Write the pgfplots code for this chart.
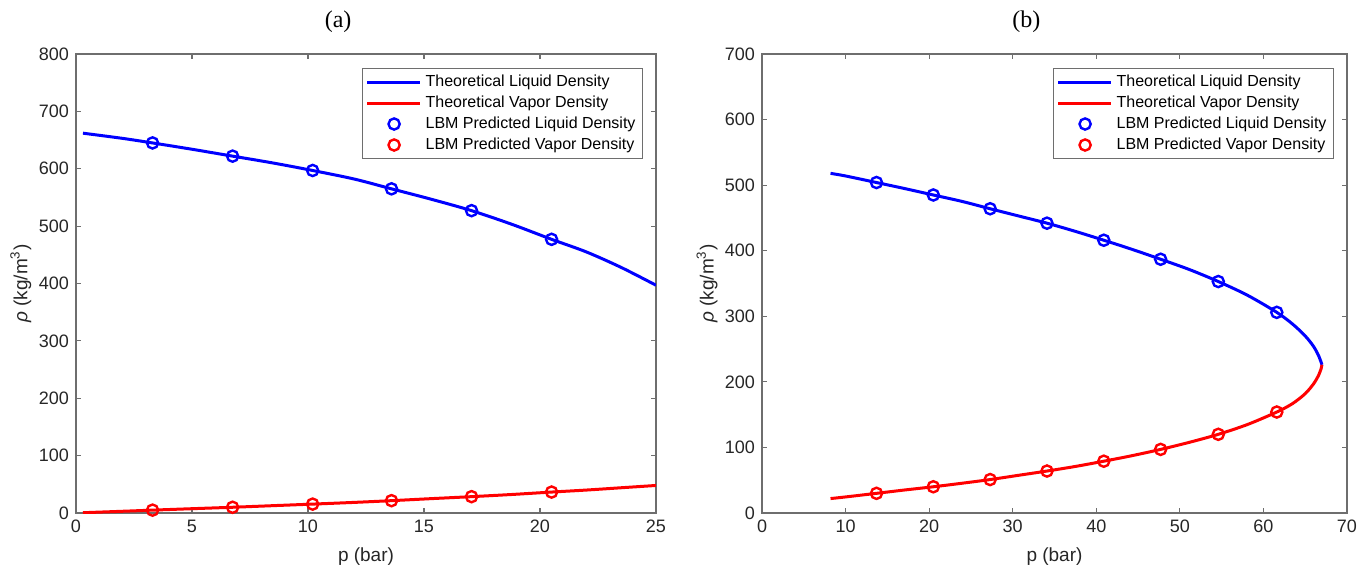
\documentclass[border=0pt]{standalone}
\usepackage{fontspec}
\setmainfont{Liberation Sans}
\newfontfamily\seriffont{Liberation Serif}
\usepackage{pgfplots}
\pgfplotsset{compat=1.18}

\definecolor{axgray}{RGB}{38,38,38}
\definecolor{boxgray}{RGB}{110,110,110}
\definecolor{mblue}{RGB}{0,0,255}
\definecolor{mred}{RGB}{255,0,0}

\pgfplotsset{
  matlab/.style={
    scale only axis, width=290pt, height=229.5pt,
    axis line style={boxgray, line width=0.6pt},
    every tick/.style={boxgray, line width=0.6pt},
    tick align=inside, tick pos=both, major tick length=2.5pt,
    /pgf/number format/assume math mode=true,
    ticklabel style={font=\fontsize{9}{10}\selectfont, text=axgray},
    label style={font=\fontsize{9.5}{11}\selectfont, text=axgray},
    xlabel={p (bar)},
    ylabel={\textit{ρ} (kg/m\textsuperscript{3})},
    xlabel style={at={(axis description cs:0.5,-0.094)}, anchor=center},
    title style={at={(axis description cs:0.452,1)}, anchor=center, yshift=10pt,
      font=\seriffont\fontsize{12}{14}\selectfont},
    legend style={at={(rel axis cs:1,1)}, anchor=north east, xshift=-6.5pt, yshift=-7pt,
      draw=boxgray, line width=0.5pt, font=\fontsize{8}{9}\selectfont, text=black,
      inner sep=1.5pt, row sep=0pt,
      nodes={inner ysep=1.5pt, text height=6pt, text depth=1.5pt}},
    legend cell align=left,
  },
  curve/.style={line width=1.5pt, mark=none, smooth, tension=0.5,
    legend image code/.code={\draw[##1, line width=1.5pt, sharp plot] (1.5pt,0pt) -- (28pt,0pt);}},
  pts/.style={only marks, mark=o, mark size=2.8pt, mark options={line width=1.2pt},
    legend image code/.code={\path[draw=none] (1.5pt,0pt) (28pt,0pt);
      \draw[##1] plot[only marks] coordinates {(15pt,0pt)};}},
}

\begin{document}
\begin{tikzpicture}
\useasboundingbox (-38pt,-30pt) rectangle (644.5pt,256.5pt);

\begin{axis}[matlab,
  xmin=0, xmax=25, ymin=0, ymax=800,
  xtick={0,5,...,25}, ytick={0,100,...,800},
  ylabel style={at={(axis description cs:-0.095,0.5)}, anchor=center},
  title={(a)}]
\addplot[curve, mblue] coordinates {
  (0.3,662) (2,653) (3.3,645) (5,634) (6.75,622) (8.5,610) (10.2,597)
  (12,582) (13.6,565) (15.3,547) (17.05,527) (18.8,503) (20.5,477) (22,455)
  (23.5,428) (25,397)
};
\addlegendentry{Theoretical Liquid Density}
\addplot[curve, mred] coordinates {
  (0.3,0.5) (2,3) (3.3,5) (5,7.5) (6.75,10) (8.5,12.8) (10.2,15.5) (12,18.5)
  (13.6,21.5) (15.3,25) (17.05,28.5) (18.8,32.3) (20.5,36.5) (22,40) (23.5,44) (25,48)
};
\addlegendentry{Theoretical Vapor Density}
\addplot[pts, mblue] coordinates {
  (3.3,645) (6.75,622) (10.2,597) (13.6,565) (17.05,527) (20.5,477)
};
\addlegendentry{LBM Predicted Liquid Density}
\addplot[pts, mred] coordinates {
  (3.3,5) (6.75,10) (10.2,15.5) (13.6,21.5) (17.05,28.5) (20.5,36.5)
};
\addlegendentry{LBM Predicted Vapor Density}
\end{axis}

\begin{axis}[matlab, at={(343pt,0pt)}, width=292.5pt,
  xmin=0, xmax=70, ymin=0, ymax=700,
  xtick={0,10,...,70}, ytick={0,100,...,700},
  ylabel style={at={(axis description cs:-0.094,0.5)}, anchor=center},
  title={(b)}]
\addplot[curve, mblue] coordinates {
  (8.2,518) (10,514) (13.7,504) (17,495) (20.5,485) (24,475) (27.3,464)
  (30.7,453) (34.1,442) (37.5,429.5) (40.9,416) (44.3,402) (47.7,387)
  (51.2,371) (54.6,353) (58.1,332) (61.6,306) (63.5,288) (65,270)
  (66,254) (66.6,240) (66.9,230) (67,226)
};
\addlegendentry{Theoretical Liquid Density}
\addplot[curve, mred] coordinates {
  (8.2,22) (10,24.5) (13.7,30) (17,35) (20.5,40) (24,45.5) (27.3,51)
  (30.7,57.5) (34.1,64) (37.5,71) (40.9,79) (44.3,87.5) (47.7,97)
  (51.2,108) (54.6,120) (58.1,135) (61.6,154) (63.5,167) (65,182)
  (66,197) (66.6,210) (66.9,220) (67,226)
};
\addlegendentry{Theoretical Vapor Density}
\addplot[pts, mblue] coordinates {
  (13.7,504) (20.5,485) (27.3,464) (34.1,442) (40.9,416) (47.7,387) (54.6,353) (61.6,306)
};
\addlegendentry{LBM Predicted Liquid Density}
\addplot[pts, mred] coordinates {
  (13.7,30) (20.5,40) (27.3,51) (34.1,64) (40.9,79) (47.7,97) (54.6,120) (61.6,154)
};
\addlegendentry{LBM Predicted Vapor Density}
\end{axis}
\end{tikzpicture}
\end{document}
